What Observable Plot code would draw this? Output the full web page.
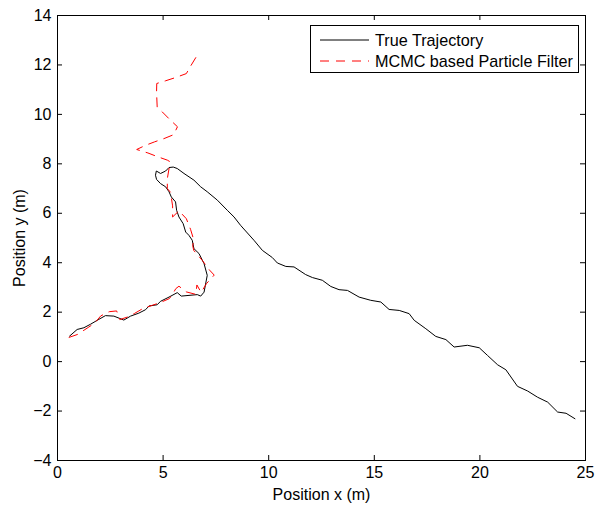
<!DOCTYPE html>
<html><head><meta charset="utf-8">
<script src="https://cdn.jsdelivr.net/npm/d3@7"></script>
<script src="https://cdn.jsdelivr.net/npm/@observablehq/plot@0.6"></script>
<style>
body{margin:0;background:#fff;}
#wrap{position:relative;width:596px;height:506px;font-family:"Liberation Sans",Arial,Helvetica,sans-serif;}
#legend{position:absolute;left:310px;top:25px;width:269px;height:48px;border:1px solid #000;background:#fff;box-sizing:border-box;font-size:16.2px;color:#000;}
#legend .row{position:absolute;left:9px;height:20px;display:flex;align-items:center;white-space:nowrap;}
#legend svg{margin-right:6px;}
</style></head><body><div id="wrap"></div>
<script>
// True trajectory
const trueX = [0.57,0.93,1.25,1.56,1.96,2.27,2.67,3.14,3.46,3.85,4.17,4.33,4.72,4.88,5.28,5.67,5.86,6.62,6.78,6.94,7.09,6.94,6.70,6.46,6.38,6.22,6.07,5.95,5.75,5.64,5.59,5.39,5.28,5.12,4.88,4.69,4.64,4.68,4.88,5.12,5.28,5.48,5.67,5.99,6.46,6.78,7.09,7.57,8.04,8.36,8.67,9.30,9.70,10.17,10.41,10.81,11.20,11.75,12.07,12.54,12.94,13.33,13.73,14.28,14.83,15.31,15.70,16.18,16.65,16.89,17.44,17.91,18.39,18.78,19.41,19.97,20.36,20.84,21.23,21.78,22.26,22.73,23.21,23.68,24.08,24.50];
const trueY = [1.03,1.30,1.37,1.51,1.71,1.86,1.84,1.68,1.84,1.96,2.10,2.25,2.30,2.44,2.61,2.79,2.65,2.71,2.65,2.81,3.49,3.96,4.37,4.57,4.91,5.11,5.24,5.58,5.85,6.12,6.46,6.66,6.87,7.07,7.20,7.37,7.54,7.71,7.61,7.71,7.85,7.87,7.81,7.61,7.34,7.07,6.87,6.53,6.12,5.85,5.51,4.91,4.50,4.21,3.99,3.85,3.83,3.52,3.40,3.29,3.04,2.91,2.88,2.61,2.48,2.41,2.11,2.07,1.94,1.67,1.33,1.02,0.89,0.59,0.66,0.56,0.25,-0.13,-0.33,-1.00,-1.19,-1.44,-1.64,-2.04,-2.09,-2.31];
// MCMC based particle filter estimate
const mcmcX = [0.55,0.95,1.45,1.75,2.05,2.45,2.80,2.95,3.30,3.65,4.05,4.50,4.95,5.30,5.50,5.60,5.75,6.10,6.55,6.60,6.80,7.05,7.42,7.20,6.85,6.45,6.40,6.46,6.30,6.10,5.75,5.45,5.45,5.35,5.20,5.20,5.30,5.30,5.20,4.70,4.28,3.75,4.17,4.60,5.04,5.50,5.68,5.32,4.96,4.72,4.69,4.70,5.12,5.59,6.10,6.30,6.55];
const mcmcY = [0.98,1.10,1.38,1.55,1.85,2.02,2.05,1.70,1.80,1.95,2.15,2.28,2.42,2.55,2.80,2.95,3.05,2.82,2.72,3.10,2.80,3.15,3.50,3.70,4.10,4.50,4.70,4.90,5.35,5.78,6.10,5.85,6.30,6.85,7.00,7.40,7.90,8.10,8.15,8.30,8.44,8.58,8.75,8.89,9.02,9.18,9.50,9.79,10.10,10.30,10.90,11.25,11.36,11.49,11.65,11.95,12.30];
const xTicks = [0,5,10,15,20,25];
const yTicks = [-4,-2,0,2,4,6,8,10,12,14];
const seriesNames = ["True Trajectory","MCMC based Particle Filter"];

const trueData = trueX.map((x,i)=>({x, y:trueY[i]}));
const mcmcData = mcmcX.map((x,i)=>({x, y:mcmcY[i]}));

const W=596, H=506, mL=57, mR=11, mT=15, mB=46;
const fw = W-mL-mR, fh = H-mT-mB, tl = 5;

const chart = Plot.plot({
  width: W, height: H,
  marginLeft: mL, marginRight: mR, marginTop: mT, marginBottom: mB,
  style: {fontFamily: "'Liberation Sans', Arial, Helvetica, sans-serif", fontSize: "16px", color: "#000", background: "#fff", overflow: "visible"},
  x: {domain: [0,25]},
  y: {domain: [-4,14]},
  marks: [
    Plot.line(trueData, {x:"x", y:"y", stroke:"#000", strokeWidth:1}),
    Plot.line(mcmcData, {x:"x", y:"y", stroke:"#ff0000", strokeWidth:1, strokeDasharray:"9,7"}),
    Plot.tickX(xTicks, {x: d=>d, insetTop: fh-tl, stroke:"#000"}),
    Plot.tickX(xTicks, {x: d=>d, insetBottom: fh-tl, stroke:"#000"}),
    Plot.tickY(yTicks, {y: d=>d, insetRight: fw-tl, stroke:"#000"}),
    Plot.tickY(yTicks, {y: d=>d, insetLeft: fw-tl, stroke:"#000"}),
    Plot.frame({stroke:"#000", strokeWidth:1}),
    Plot.axisX({ticks: xTicks, tickSize: 0, tickPadding: 6, tickFormat: d=>String(d), label: "Position x (m)", labelAnchor: "center", labelOffset: 39, labelArrow: "none"}),
    Plot.axisY({ticks: yTicks, tickSize: 0, tickPadding: 6, tickFormat: d=>d<0?"\u2212"+Math.abs(d):String(d), label: "Position y (m)", labelAnchor: "center", labelOffset: 44, labelArrow: "none"})
  ]
});
const wrap = document.getElementById("wrap");
wrap.appendChild(chart);

const leg = document.createElement("div");
leg.id = "legend";
const styles = [{stroke:"#000", dash:""},{stroke:"#ff0000", dash:"9,7"}];
seriesNames.forEach((name,i)=>{
  const row = document.createElement("div");
  row.className = "row";
  row.style.top = (4 + i*21) + "px";
  row.innerHTML = `<svg width="49" height="4"><line x1="0" x2="49" y1="2" y2="2" stroke="${styles[i].stroke}" stroke-width="1" ${styles[i].dash?`stroke-dasharray="${styles[i].dash}"`:""}/></svg><span>${name}</span>`;
  leg.appendChild(row);
});
wrap.appendChild(leg);
</script>
</body></html>
